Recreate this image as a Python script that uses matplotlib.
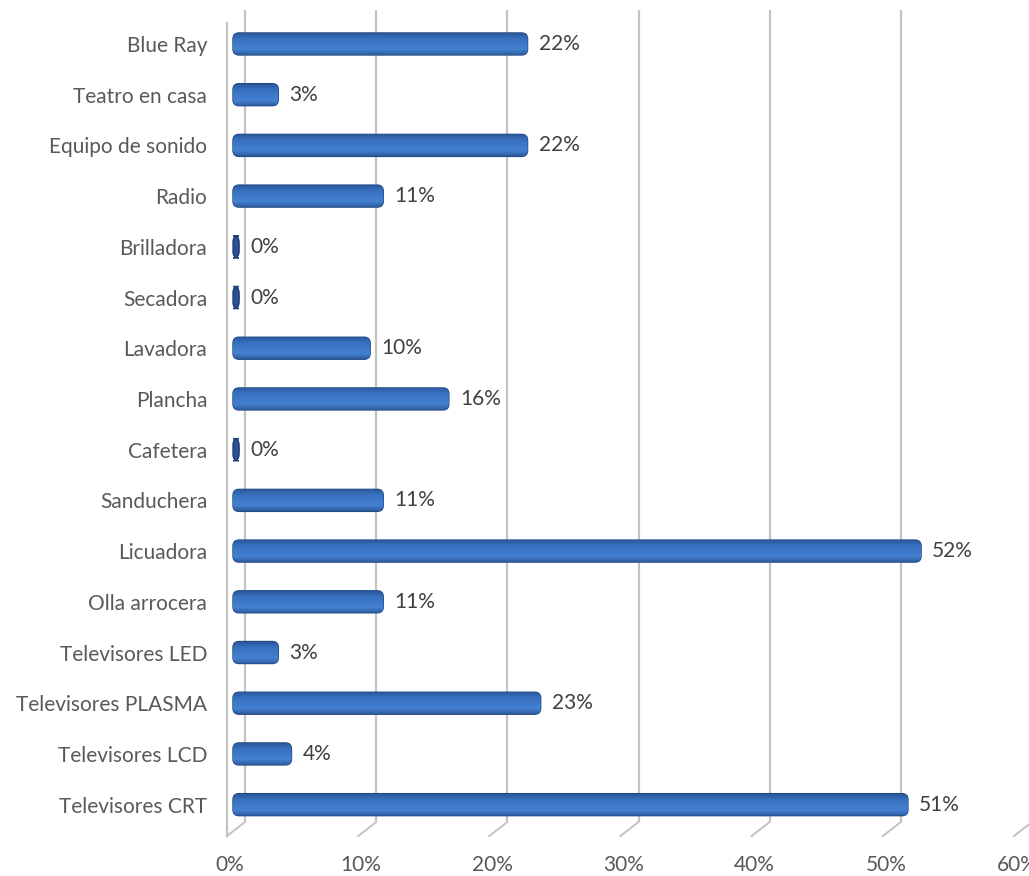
import numpy as np
import matplotlib
matplotlib.use("Agg")
import matplotlib.pyplot as plt
from matplotlib.patches import FancyBboxPatch, Ellipse
from matplotlib.colors import LinearSegmentedColormap

categories = ["Televisores CRT", "Televisores LCD", "Televisores PLASMA",
              "Televisores LED", "Olla arrocera", "Licuadora", "Sanduchera",
              "Cafetera", "Plancha", "Lavadora", "Secadora", "Brilladora",
              "Radio", "Equipo de sonido", "Teatro en casa", "Blue Ray"]
values = [51, 4, 23, 3, 11, 52, 11, 0, 16, 10, 0, 0, 11, 22, 3, 22]
xticks = [0, 10, 20, 30, 40, 50, 60]

plt.rcParams["font.family"] = ["Lato", "DejaVu Sans"]

W, H = 1029, 876
fig = plt.figure(figsize=(W / 100, H / 100), dpi=100)
ax_l, ax_r = 233, 1020
ax_t, ax_b = 18.6, 830
ax = fig.add_axes([ax_l / W, 1 - ax_b / H, (ax_r - ax_l) / W, (ax_b - ax_t) / H])
ax.set_xlim(0, 60)
ax.set_ylim(-0.5, len(categories) - 0.5)

px_x = (ax_r - ax_l) / 60.0            # pixels per percent
px_y = (ax_b - ax_t) / len(categories)  # pixels per category

def dx(p):
    return p / px_x

def dy(p):
    return p / px_y

for s in ax.spines.values():
    s.set_visible(False)
ax.set_xticks([])
ax.set_yticks(range(len(categories)))
ax.set_yticklabels(categories, fontsize=15, color="#595959")
ax.tick_params(axis="y", length=0, pad=18.5)

grid_c = "#c3c3c3"
y_top = -0.5 + dy(ax_b - 10)
y_back = -0.5 - dy(822 - ax_b)
y_front = -0.5 - dy(836 - ax_b)

# back wall gridlines with floor edges
for t in xticks:
    xb = t + dx(12)
    xf = t - dx(6)
    ax.plot([xb, xb], [y_top, y_back], color=grid_c, lw=1.6, clip_on=False, zorder=1,
            solid_capstyle="butt")
    ax.plot([xb, xf], [y_back, y_front], color=grid_c, lw=1.4, clip_on=False, zorder=1)
    ax.text(t - dx(3), y_front - dy(29), f"{t}%", ha="center", va="center",
            fontsize=15, color="#595959", clip_on=False)

# side wall edge
ax.plot([-dx(6), -dx(6)], [-0.5 + dy(ax_b - 23), y_front], color=grid_c, lw=1.6,
        clip_on=False, zorder=1)

bar_h = dy(22)
cap_w = dx(6)
shade = LinearSegmentedColormap.from_list(
    "shade", ["#2c5b9d", "#4682d2", "#3f7aca", "#3870bf", "#2a5799"])
grad = np.linspace(0, 1, 64).reshape(-1, 1)

for i, v in enumerate(values):
    y0 = i - bar_h / 2
    w = v + cap_w
    patch = FancyBboxPatch((0, y0), w, bar_h,
                           boxstyle=f"round,pad=0,rounding_size={dx(6)}",
                           mutation_aspect=px_x / px_y,
                           facecolor="#3a74c3", edgecolor="#234a83", lw=1.0,
                           zorder=3, clip_on=False)
    ax.add_patch(patch)
    im = ax.imshow(grad, cmap=shade, aspect="auto", origin="upper",
                   extent=(0, w, y0 + bar_h, y0), zorder=3.5, alpha=0.95,
                   interpolation="bilinear")
    im.set_clip_path(patch)
    if v == 0:
        ax.add_patch(Ellipse((cap_w / 2, i), cap_w, bar_h, facecolor="#2d4f94",
                             edgecolor="#1f3b70", lw=0.8, zorder=4))
    ax.text(w + dx(11), i, f"{v}%", va="center", ha="left", fontsize=15,
            color="#404040", zorder=5)

ax.set_xlim(0, 60)
ax.set_ylim(-0.5, len(categories) - 0.5)
fig.savefig("out.png", dpi=100)
